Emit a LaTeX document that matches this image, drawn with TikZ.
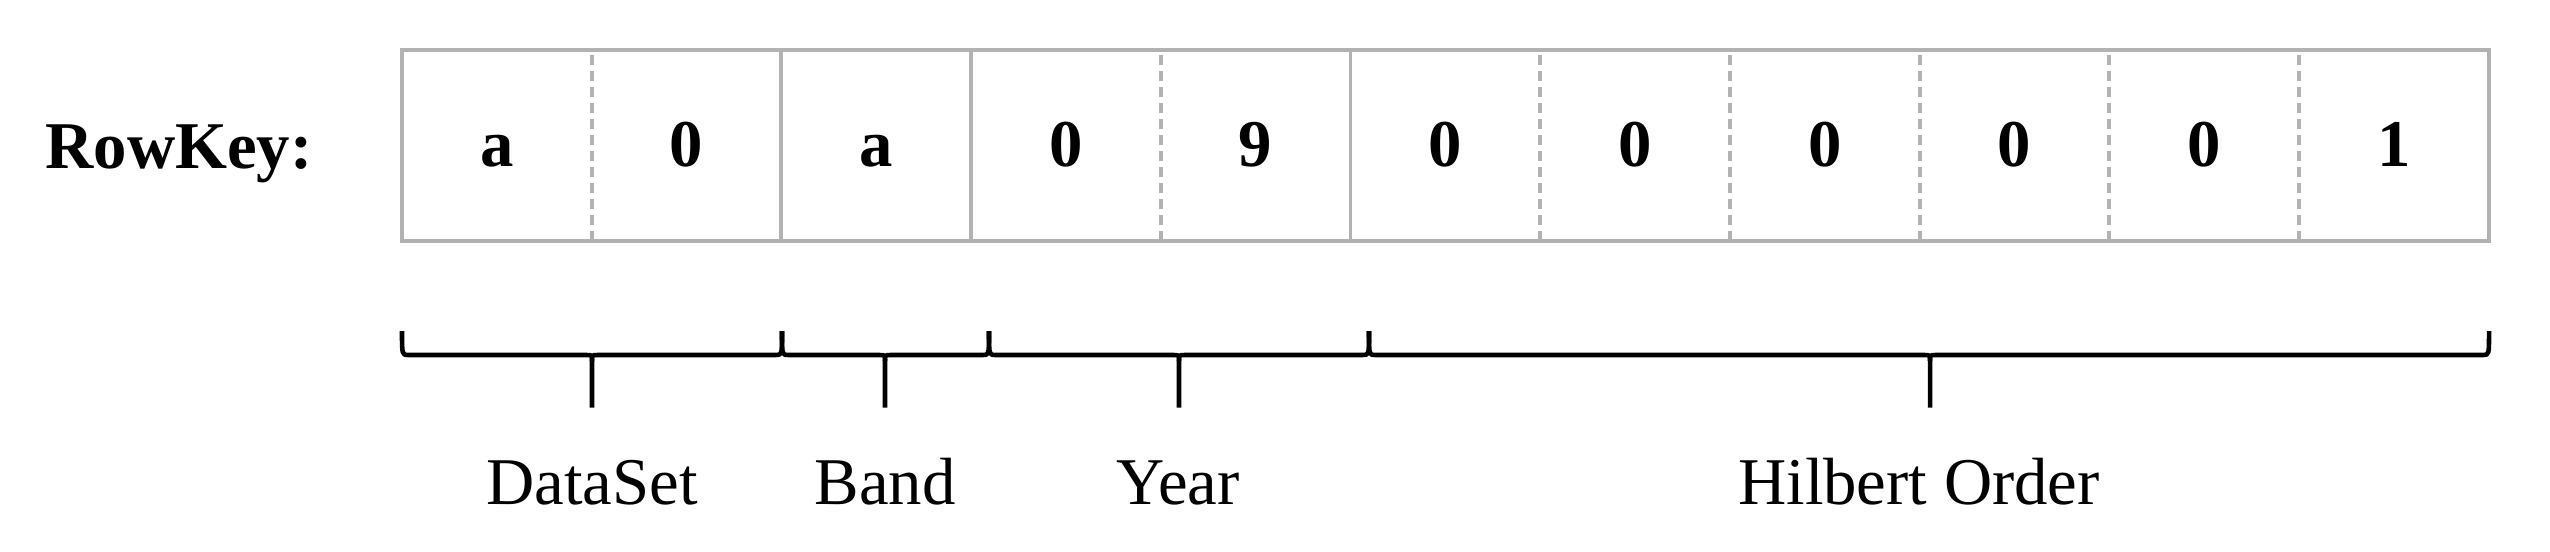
\documentclass[tikz,border=0pt]{standalone}
\usepackage{fontspec}
\setmainfont{Liberation Serif}

\tikzset{
  cellline/.style={draw=gray!60, line width=1.1pt},
  celldash/.style={cellline, dash pattern=on 0.1cm off 0.06cm},
  brc/.style={line width=1.3pt, line join=round},
  keytxt/.style={font=\fontsize{19}{23}\selectfont\bfseries, anchor=base},
  parttxt/.style={font=\fontsize{19}{23}\selectfont, anchor=base}
}

\begin{document}
\begin{tikzpicture}

\useasboundingbox (0,0) rectangle (25.5,5.51);

\node[keytxt] (rowkey) at (1.79,3.82) {RowKey:};

% cells of the key
\foreach \v [count=\i] in {a,0,a,0,9,0,0,0,0,0,1}
  \node[keytxt] (c\i) at ({4.02+1.897*(\i-0.5)},3.84) {\v};

\foreach \j in {1,4,6,7,8,9,10}
  \draw[celldash] ({4.02+1.897*\j},3.104) -- ({4.02+1.897*\j},5.006);
\foreach \j in {2,3,5}
  \draw[cellline] ({4.02+1.897*\j},3.104) -- ({4.02+1.897*\j},5.006);
\draw[cellline] (4.02,3.104) rectangle (24.89,5.006);

% braces
\foreach \a/\m/\b in {4.02/5.92/7.82, 7.82/8.85/9.89, 9.89/11.79/13.69, 13.69/19.30/24.89}{
  \draw[brc] (\a,2.2) .. controls (\a,1.96) .. ({\a+0.06},1.96) -- ({\m-0.06},1.96)
    .. controls (\m,1.96) .. (\m,1.90) -- (\m,1.435);
  \draw[brc] (\m,1.90) .. controls (\m,1.96) .. ({\m+0.06},1.96) -- ({\b-0.06},1.96)
    .. controls (\b,1.96) .. (\b,2.2);
}

\node[parttxt] (dataset) at (5.92,0.47) {DataSet};
\node[parttxt] (band) at (8.85,0.47) {Band};
\node[parttxt] (year) at (11.78,0.47) {Year};
\node[parttxt] (hilbert) at (19.19,0.47) {Hilbert Order};

\end{tikzpicture}
\end{document}
